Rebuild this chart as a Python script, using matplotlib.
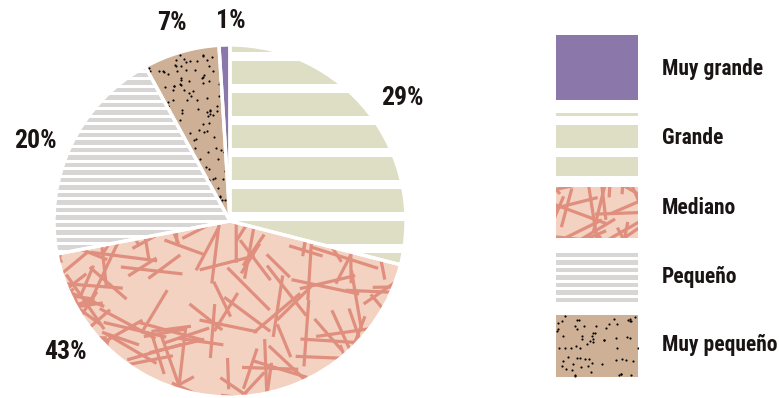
import numpy as np
import matplotlib.pyplot as plt
from matplotlib.patches import Rectangle
from matplotlib.collections import LineCollection

labels = ['Muy grande', 'Grande', 'Mediano', 'Pequeño', 'Muy pequeño']
values = [1, 29, 43, 20, 7]
pct_labels = ['1%', '29%', '43%', '20%', '7%']

colors = ['#8b77aa', '#dddec3', '#f3d2c1', '#ffffff', '#cdb095']
textures = ['solid', 'bands', 'lines', 'stripes', 'dots']

# layout in figure pixels (measured from the top)
pct_pos = [(231, 21), (402, 98), (65, 352), (35, 141), (172, 23)]
leg_box = [(35, 100), (113, 176), (187, 238), (252, 305), (315, 377)]
leg_text_y = [69, 138, 208, 277, 345]

W, H = 779, 398
font = ['Roboto Condensed', 'Liberation Sans Narrow', 'DejaVu Sans']
rng = np.random.default_rng(11)


def texture(ax, patch, kind):
    bb = patch.get_path().transformed(patch.get_patch_transform()).get_extents()
    x0, y0, x1, y1 = bb.x0, bb.y0, bb.x1, bb.y1
    arts = []
    if kind == 'bands':
        # white bands on the green, same phase everywhere
        for k in range(-2, 14):
            top = 52 + 32*k
            arts.append(Rectangle((x0 - 5, H - top - 8.5), x1 - x0 + 10, 8.5,
                                  facecolor='white', lw=0))
    elif kind == 'stripes':
        for k in range(-40, 60):
            top = 252.7 + 7.5*k
            arts.append(Rectangle((x0 - 5, H - top - 4.7), x1 - x0 + 10, 4.7,
                                  facecolor='#d8d5d5', lw=0))
    elif kind == 'lines':
        n = int((x1 - x0 + 60)*(y1 - y0 + 60)/480) + 5
        cx = rng.uniform(x0 - 30, x1 + 30, n)
        cy = rng.uniform(y0 - 30, y1 + 30, n)
        ang = rng.uniform(0, np.pi, n)
        ln = rng.uniform(30, 75, n)
        segs = [[(a - l/2*np.cos(t), b - l/2*np.sin(t)),
                 (a + l/2*np.cos(t), b + l/2*np.sin(t))]
                for a, b, t, l in zip(cx, cy, ang, ln)]
        lc = LineCollection(segs, colors='#e08f7f', linewidths=2.3,
                            capstyle='butt', zorder=2)
        ax.add_collection(lc)
        lc.set_clip_path(patch)
    elif kind == 'dots':
        n = int((x1 - x0)*(y1 - y0)/75)
        sc = ax.scatter(rng.uniform(x0, x1, n), rng.uniform(y0, y1, n),
                        s=2.4, color='black', lw=0, zorder=2)
        sc.set_clip_path(patch)
    for a in arts:
        a.set_zorder(2)
        ax.add_patch(a)
        a.set_clip_path(patch)


fig = plt.figure(figsize=(W/100, H/100), dpi=100)
ax = fig.add_axes([0, 0, 1, 1])

center = (230, H - 221)
radius = 176
wedges, _ = ax.pie(values, colors=colors, startangle=93.6, counterclock=False,
                   center=center, radius=radius, frame=True,
                   wedgeprops=dict(linewidth=0))
for w, kind in zip(wedges, textures):
    texture(ax, w, kind)

# white gaps between slices
ax.pie(values, colors=['none']*len(values), startangle=93.6, counterclock=False,
       center=center, radius=radius, frame=True,
       wedgeprops=dict(edgecolor='white', linewidth=2.4, zorder=3))

for txt, (px, py) in zip(pct_labels, pct_pos):
    ax.text(px, H - py, txt, ha='center', va='center', fontsize=18.5,
            fontweight='bold', family=font, color='#1a1414')

# legend
for i in range(len(labels)):
    top, bot = leg_box[i]
    r = Rectangle((556, H - bot), 82, bot - top, facecolor=colors[i], lw=0)
    ax.add_patch(r)
    texture(ax, r, textures[i])
    ax.text(662, H - leg_text_y[i], labels[i], ha='left', va='center',
            fontsize=15.5, fontweight='bold', family=font, color='#1a1414')

ax.set_xlim(0, W)
ax.set_ylim(0, H)
ax.axis('off')

plt.savefig('out.png', dpi=100)
